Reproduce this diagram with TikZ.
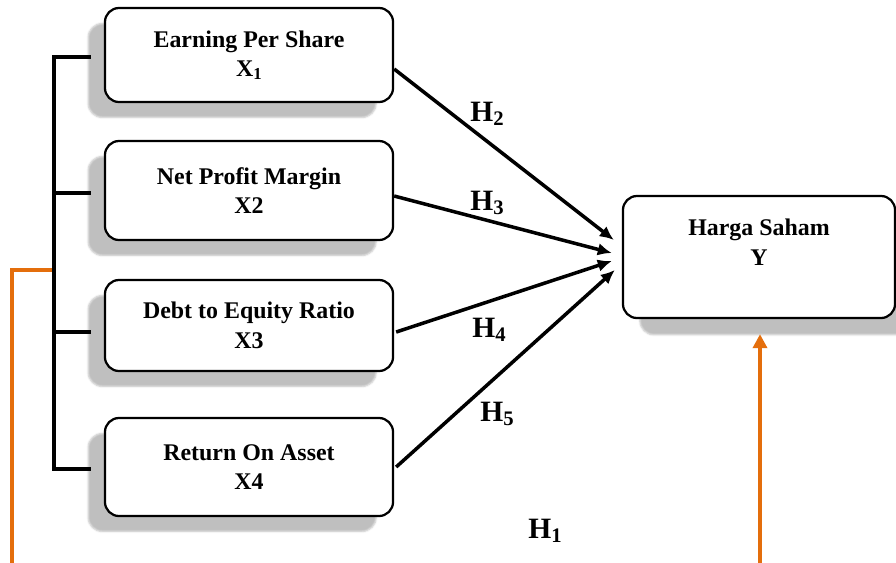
\documentclass[tikz,border=0pt]{standalone}
\usepackage{fontspec}
\setmainfont{Liberation Serif}
\usetikzlibrary{arrows.meta, positioning, calc, shadows.blur}
\definecolor{linkorange}{RGB}{228,110,12}
\newcommand{\hsub}[1]{\raisebox{-0.25ex}{\scalebox{0.7}{#1}}}

\begin{document}
\begin{tikzpicture}[
    x=0.025cm, y=-0.025cm,
    varbox/.style={draw, line width=1.6pt, rounded corners=10pt, fill=white, align=center, minimum width=7.2cm, font=\fontsize{17}{21}\selectfont\bfseries},
    lshadow/.style={blur shadow={shadow xshift=-12pt, shadow yshift=-11pt, shadow opacity=25, shadow blur radius=1.2pt, shadow blur steps=4}},
    rshadow/.style={blur shadow={shadow xshift=12pt, shadow yshift=-12pt, shadow opacity=25, shadow blur radius=1.2pt, shadow blur steps=4}},
    hyp/.style={font=\fontsize{21}{25}\selectfont\bfseries},
    rel/.style={-{Latex[length=10pt, width=9pt]}, line width=2.5pt},
    bracket/.style={line width=3pt, line cap=rect},
    moder/.style={draw=linkorange, line width=2.5pt}
]
\useasboundingbox (0,0) rectangle (896,562);

% independent variables
\node[varbox, lshadow, minimum height=2.35cm] (x1) at (249,55) {Earning Per Share\\X\hsub{1}};
\node[varbox, lshadow, minimum height=2.475cm] (x2) at (249,190.5) {Net Profit Margin\\X2};
\node[varbox, lshadow, minimum height=2.275cm] (x3) at (249,325.5) {Debt to Equity Ratio\\X3};
\node[varbox, lshadow, minimum height=2.45cm] (x4) at (249,467) {Return On Asset\\X4};

% dependent variable
\node[varbox, rshadow, minimum width=6.8cm, minimum height=3.05cm] (y) at (759,257) {Harga Saham\\Y\\\mbox{}};

% simultaneous effect (under the bracket)
\coordinate (spine) at (55,270);
\coordinate (h1 left) at (12,575);
\coordinate (h1 right) at (760,575);
\draw[moder] (spine) -| (h1 left);
\draw[moder, -{Triangle[length=10pt, width=10pt]}] (h1 right) -- ($(y.south)+(1,15)$);

% bracket joining X1..X4
\draw[bracket] ($(x1.west)+(-15,2)$) -- ++(-35,0) coordinate (t1);
\draw[bracket] ($(x2.west)+(-15,2.5)$) -- ++(-35,0) coordinate (t2);
\draw[bracket] ($(x3.west)+(-15,6.5)$) -- ++(-35,0) coordinate (t3);
\draw[bracket] ($(x4.west)+(-15,2)$) -- ++(-35,0) coordinate (t4);
\draw[bracket] (t1) -- (t4);

% partial effects
\draw[rel] ($(x1.east)+(0,14)$) -- ($(y.west)+(-8,-17)$);
\draw[rel] ($(x2.east)+(0,5.5)$) -- ($(y.west)+(-10,-4)$);
\draw[rel] ($(x3.east)+(2,6.5)$) -- ($(y.west)+(-10,4)$);
\draw[rel] ($(x4.east)+(2,0)$) -- ($(y.west)+(-7,13)$);

\node[hyp] (h2) at (487,114) {H\hsub{2}};
\node[hyp] (h3) at (487,203) {H\hsub{3}};
\node[hyp] (h4) at (489,330) {H\hsub{4}};
\node[hyp] (h5) at (497,414) {H\hsub{5}};
\node[hyp] (h1) at (545,531) {H\hsub{1}};
\end{tikzpicture}
\end{document}
